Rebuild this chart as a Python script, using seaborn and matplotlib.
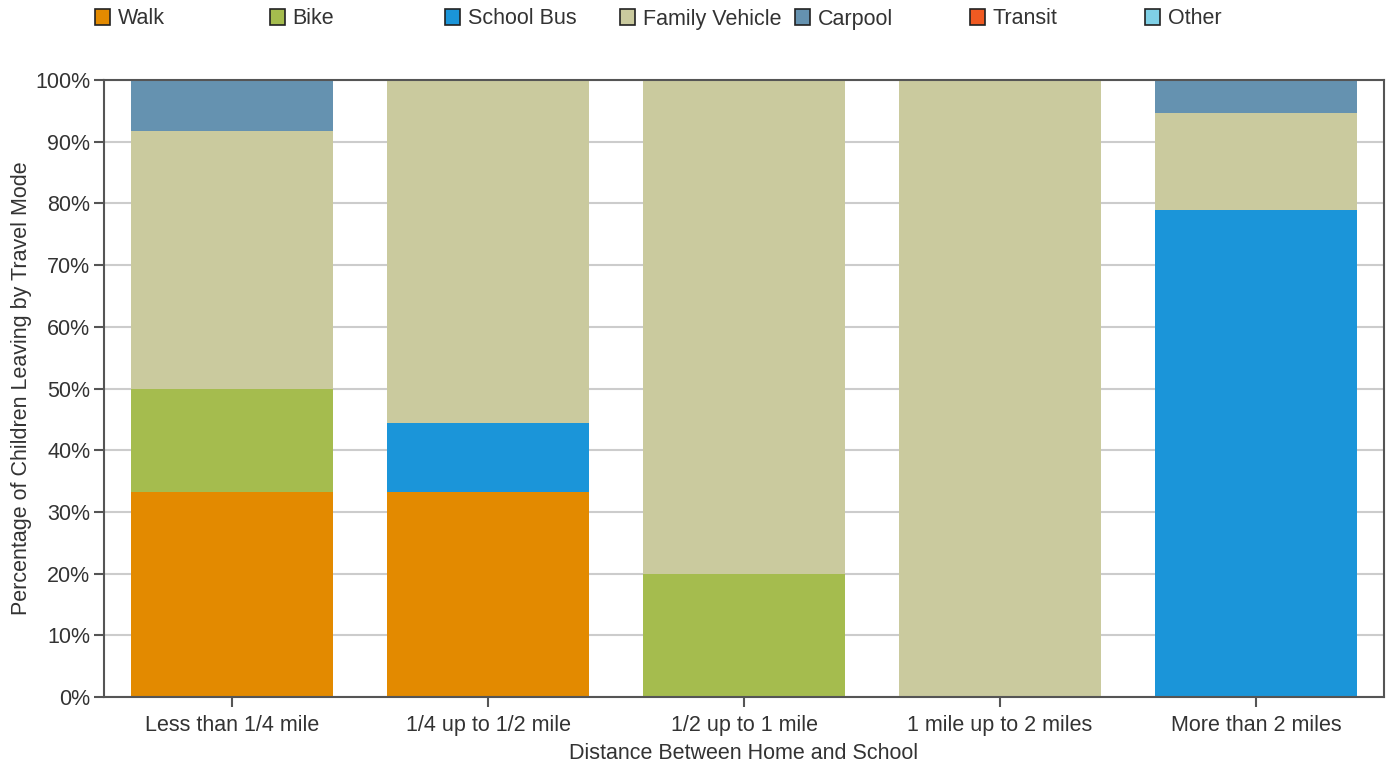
import matplotlib
matplotlib.use("Agg")
import matplotlib.pyplot as plt
import seaborn as sns
import pandas as pd
import numpy as np
from matplotlib.patches import Patch
from matplotlib.ticker import FuncFormatter

# данные
distances = ["Less than 1/4 mile", "1/4 up to 1/2 mile", "1/2 up to 1 mile",
             "1 mile up to 2 miles", "More than 2 miles"]
modes = ["Walk", "Bike", "School Bus", "Family Vehicle", "Carpool", "Transit", "Other"]
walk = [33.3, 33.3, 0, 0, 0]
bike = [16.7, 0, 20.0, 0, 0]
school_bus = [0, 11.1, 0, 0, 78.9]
family_vehicle = [41.7, 55.6, 80.0, 100.0, 15.8]
carpool = [8.3, 0, 0, 0, 5.3]
transit = [0, 0, 0, 0, 0]
other = [0, 0, 0, 0, 0]
colors = ["#E38A00", "#A5BC4E", "#1B95D9", "#CACA9E", "#6592B0", "#F05A22", "#7FD0E6"]

series = [walk, bike, school_bus, family_vehicle, carpool, transit, other]

sns.set_theme(style="white")
plt.rcParams["font.family"] = ["Liberation Sans", "DejaVu Sans"]
text_col = "#333333"
axis_col = "#555555"

fig = plt.figure(figsize=(13.89, 7.65), dpi=100)
ax = fig.add_axes([0.0749, 0.0889, 0.9215, 0.8065])

bottom = np.zeros(len(distances))
for mode, vals, col in zip(modes, series, colors):
    df = pd.DataFrame({"distance": distances, "pct": vals})
    sns.barplot(data=df, x="distance", y="pct", order=distances, color=col,
                saturation=1, width=0.79, bottom=bottom, linewidth=0,
                errorbar=None, ax=ax, zorder=2)
    bottom = bottom + np.array(vals)

ax.set_xlim(-0.5, 4.5)
ax.set_ylim(0, 100)
ax.set_yticks(range(0, 101, 10))
ax.yaxis.set_major_formatter(FuncFormatter(lambda v, p: f"{int(v)}%"))
ax.yaxis.grid(True, color="#cccccc", linewidth=1.5, zorder=0)
ax.set_axisbelow(True)

for s in ax.spines.values():
    s.set_color(axis_col)
    s.set_linewidth(1.5)

ax.tick_params(axis="both", which="major", direction="out", length=7, width=1.5,
               color=axis_col, labelcolor=text_col, labelsize=15.5, pad=3,
               bottom=True, left=True)
ax.tick_params(axis="x", pad=6)

ax.set_xlabel("Distance Between Home and School", fontsize=15.5, color=text_col, labelpad=5)
ax.set_ylabel("Percentage of Children Leaving by Travel Mode", fontsize=15.5,
              color=text_col, labelpad=2)

# легенда: отдельные элементы с равным шагом
for i, (mode, col) in enumerate(zip(modes, colors)):
    h = Patch(facecolor=col, edgecolor="#222222", linewidth=1.2)
    fig.legend(handles=[h], labels=[mode], loc="center left",
               bbox_to_anchor=((95 + 175 * i) / 1389, 1 - 19 / 765),
               frameon=False, fontsize=15.5, labelcolor=text_col,
               handlelength=0.7, handleheight=0.7, handletextpad=0.35,
               borderpad=0, borderaxespad=0)

fig.savefig("out.png", dpi=100)
